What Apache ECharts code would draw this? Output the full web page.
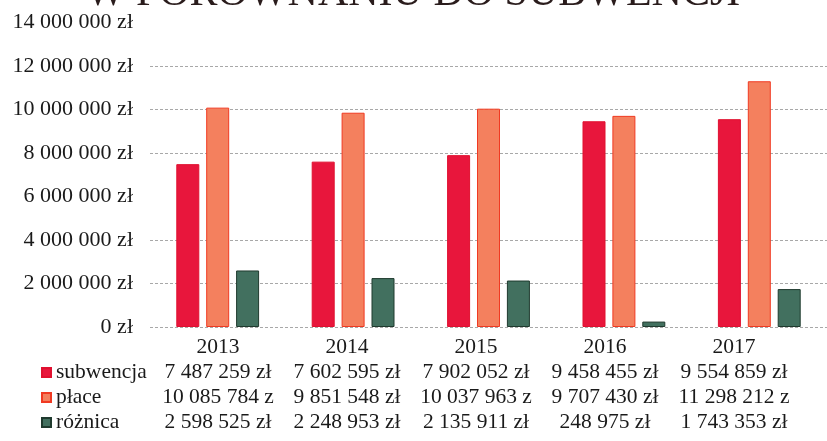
<!DOCTYPE html>
<html>
<head>
<meta charset="utf-8">
<script src="https://cdn.jsdelivr.net/npm/echarts@6/dist/echarts.min.js"></script>
<style>
html,body{margin:0;padding:0;background:#fff;}
#c{width:827px;height:441px;}
</style>
</head>
<body>
<div id="c"></div>
<script>
const title = 'W PORÓWNANIU DO SUBWENCJI';
const years = ['2013', '2014', '2015', '2016', '2017'];
const seriesNames = ['subwencja', 'płace', 'różnica'];
const subwencja = [7487259, 7602595, 7902052, 9458455, 9554859];
const place = [10085784, 9851548, 10037963, 9707430, 11298212];
const roznica = [2598525, 2248953, 2135911, 248975, 1743353];
const yTicks = [0, 2000000, 4000000, 6000000, 8000000, 10000000, 12000000, 14000000];

const FONT = '"Liberation Serif", "Times New Roman", serif';
const colors = ['#e8163c', '#f4805e', '#42705f'];
const borders = ['#e0102f', '#f03a22', '#1f3a2e'];

function fmt(v) {
  return String(v).replace(/\B(?=(\d{3})+(?!\d))/g, ' ') + ' zł';
}
// table cells are clipped to the column width as in the source
function cell(v) { return fmt(v).slice(0, 12); }

const allData = [subwencja, place, roznica];

const chart = echarts.init(document.getElementById('c'), null, {renderer: 'canvas'});
chart.setOption({
  animation: false,
  backgroundColor: '#ffffff',
  graphic: [{
    type: 'text',
    x: 413,
    y: -6,
    style: {
      text: title,
      font: '42px ' + FONT,
      fill: '#2a1c1c',
      textAlign: 'center',
      textVerticalAlign: 'middle'
    },
    silent: true
  }],
  legend: {
    orient: 'vertical',
    left: 41,
    top: 360,
    padding: 0,
    itemGap: 0,
    itemWidth: 9,
    itemHeight: 9,
    icon: 'rect',
    data: seriesNames,
    textStyle: {fontFamily: FONT, fontSize: 21.5, color: '#1a1a1a', lineHeight: 25, height: 25}
  },
  grid: [
    {left: 150, right: -6, top: 22.5, bottom: 114, containLabel: false},
    {left: 153.5, width: 645, top: 320, height: 10, containLabel: false}
  ],
  xAxis: [
    {
      type: 'category', gridIndex: 0, data: years,
      axisLine: {show: false}, axisTick: {show: false}, axisLabel: {show: false}
    },
    {
      type: 'category', gridIndex: 1, data: years,
      axisLine: {show: false}, axisTick: {show: false},
      axisLabel: {
        interval: 0,
        margin: 4.5,
        fontFamily: FONT, fontSize: 21.5, color: '#1a1a1a', lineHeight: 25,
        formatter: function (val, idx) {
          return [val, cell(subwencja[idx]), cell(place[idx]), cell(roznica[idx])].join('\n');
        }
      }
    }
  ],
  yAxis: [
    {
      type: 'value', gridIndex: 0, min: 0, max: 14000000, interval: 2000000,
      axisLine: {show: false}, axisTick: {show: false},
      axisLabel: {
        margin: 17, fontFamily: FONT, fontSize: 22, color: '#1a1a1a',
        formatter: function (v) { return fmt(v); }
      },
      splitLine: {
        show: true,
        lineStyle: {
          type: [3, 2], width: 1,
          color: yTicks.map(function (t) { return (t === 6000000 || t === 14000000) ? 'rgba(0,0,0,0)' : '#a8a8a8'; })
        }
      }
    },
    {
      type: 'value', gridIndex: 1, min: 0, max: 1,
      show: false
    }
  ],
  series: seriesNames.map(function (name, i) {
    return {
      name: name,
      type: 'bar',
      xAxisIndex: 0,
      yAxisIndex: 0,
      data: allData[i],
      barWidth: 23,
      barGap: '30%',
      itemStyle: {color: colors[i], borderColor: borders[i], borderWidth: 1}
    };
  })
});
</script>
</body>
</html>
